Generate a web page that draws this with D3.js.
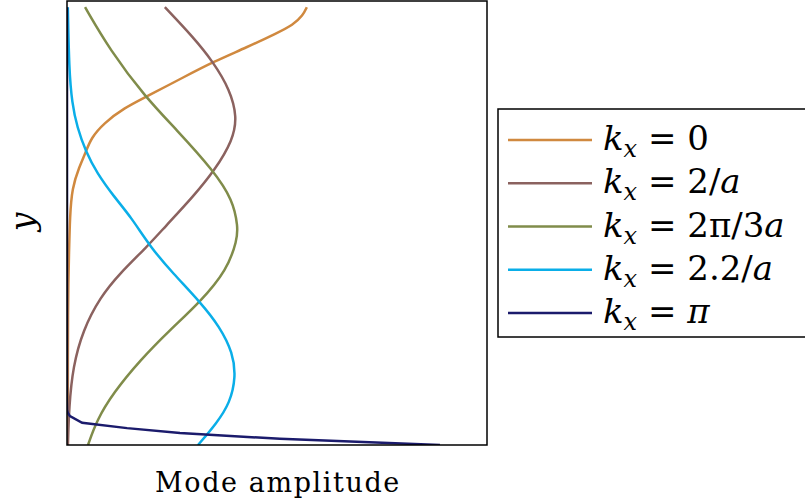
<!DOCTYPE html>
<html>
<head>
<meta charset="utf-8">
<script src="https://cdn.jsdelivr.net/npm/d3@7"></script>
<style>
  body { margin: 0; background: #fff; }
  svg { display: block; }
  text { white-space: pre; }
</style>
</head>
<body>
<svg width="805" height="503"></svg>
<script>
const plotMargin = {left: 67, right: 318, top: 1, bottom: 58};
const lineWidth = 2.5;

// amplitude (x) vs height (y)
const orangeX = [0.571, 0.562, 0.538, 0.500, 0.429, 0.348, 0.279, 0.188, 0.136, 0.088, 0.057, 0.045, 0.029, 0.012, 0.007, 0.005, 0.002, 0.002];
const orangeY = [0.986, 0.968, 0.946, 0.928, 0.896, 0.863, 0.829, 0.784, 0.759, 0.725, 0.691, 0.660, 0.626, 0.579, 0.514, 0.439, 0.327, 0.0];
const brownX = [0.233, 0.300, 0.348, 0.388, 0.405, 0.395, 0.352, 0.300, 0.233, 0.190, 0.126, 0.079, 0.038, 0.014, 0.005, 0.002];
const brownY = [0.986, 0.919, 0.863, 0.800, 0.739, 0.687, 0.619, 0.559, 0.491, 0.446, 0.387, 0.333, 0.259, 0.176, 0.086, 0.0];
const oliveX = [0.043, 0.102, 0.186, 0.262, 0.348, 0.395, 0.407, 0.405, 0.381, 0.317, 0.245, 0.174, 0.110, 0.071, 0.050];
const oliveY = [0.986, 0.890, 0.784, 0.709, 0.619, 0.552, 0.491, 0.462, 0.394, 0.322, 0.259, 0.191, 0.117, 0.056, 0.0];
const cyanX = [0.002, 0.005, 0.012, 0.024, 0.045, 0.071, 0.112, 0.152, 0.200, 0.252, 0.317, 0.364, 0.395, 0.402, 0.388, 0.357, 0.312];
const cyanY = [0.986, 0.845, 0.770, 0.716, 0.660, 0.613, 0.559, 0.514, 0.444, 0.387, 0.322, 0.266, 0.207, 0.153, 0.095, 0.050, 0.0];
const navyX = [0.0, 0.0, 0.002, 0.007, 0.036, 0.143, 0.269, 0.507, 0.888];
const navyY = [0.986, 0.079, 0.072, 0.065, 0.050, 0.038, 0.027, 0.014, 0.0];

const seriesNames = ["k0", "k2a", "k2pi3a", "k22a", "kpi"];
const seriesColors = ["#D0893F", "#8B625F", "#808C4A", "#0AAEE8", "#1B1B6C"];
const seriesLabels = ["0", "2/a", "2π/3a", "2.2/a", "π"];

function renderChart(){
  var svg = d3.select("svg"),
      width = +svg.attr("width") - plotMargin.left - plotMargin.right,
      height = +svg.attr("height") - plotMargin.top - plotMargin.bottom;

  var xScale = d3.scaleLinear().domain([0, 1]).range([0, width]);
  var yScale = d3.scaleLinear().domain([0, 1]).range([height, 0]);

  var g = svg.append("g")
            .attr("transform", "translate(" + plotMargin.left + "," + plotMargin.top + ")");

  var series = [
    {xs: orangeX, ys: orangeY, curve: d3.curveBasis},
    {xs: brownX, ys: brownY, curve: d3.curveBasis},
    {xs: oliveX, ys: oliveY, curve: d3.curveBasis},
    {xs: cyanX, ys: cyanY, curve: d3.curveBasis},
    {xs: navyX, ys: navyY, curve: d3.curveLinear}
  ];

  g.append("defs").append("clipPath").attr("id", "clip")
   .append("rect").attr("width", width).attr("height", height);

  series.forEach(function(s, i){
    var pts = s.xs.map(function(x, j){ return [x, s.ys[j]]; });
    var line = d3.line()
                 .x(function(d){ return xScale(d[0]); })
                 .y(function(d){ return yScale(d[1]); })
                 .curve(s.curve);
    g.append("path")
     .attr("class", seriesNames[i])
     .attr("clip-path", "url(#clip)")
     .attr("d", line(pts))
     .attr("fill", "none")
     .attr("stroke", seriesColors[i])
     .attr("stroke-width", lineWidth);
  });

  g.append("rect")
   .attr("width", width).attr("height", height)
   .attr("fill", "none").attr("stroke", "#000").attr("stroke-width", 1.5);

  // axis labels
  svg.append("text")
     .attr("x", plotMargin.left + width / 2 + 1).attr("y", 492)
     .attr("text-anchor", "middle")
     .attr("font-family", "DejaVu Serif").attr("font-size", 27)
     .attr("letter-spacing", 1.6)
     .text("Mode amplitude");
  svg.append("text")
     .attr("transform", "translate(34,222) rotate(-90)")
     .attr("text-anchor", "middle")
     .attr("font-family", "DejaVu Serif").attr("font-style", "italic").attr("font-size", 33)
     .text("y");

  // legend
  var leg = svg.append("g").attr("transform", "translate(498,109)");
  leg.append("rect").attr("width", 320).attr("height", 228)
     .attr("fill", "#fff").attr("stroke", "#000").attr("stroke-width", 1.5);
  var rowY = d3.scaleLinear().domain([0, 4]).range([31, 204]);
  seriesLabels.forEach(function(lab, i){
    var ry = rowY(i);
    leg.append("line").attr("x1", 10).attr("x2", 94).attr("y1", ry).attr("y2", ry)
       .attr("stroke", seriesColors[i]).attr("stroke-width", lineWidth);
    var t = leg.append("text").attr("x", 105).attr("y", ry + 10)
               .attr("font-family", "DejaVu Serif").attr("font-size", 34);
    t.append("tspan").attr("font-style", "italic").text("k");
    t.append("tspan").attr("font-style", "italic").attr("font-size", 24).attr("dy", 7).text("x");
    t.append("tspan").attr("dy", -7).text("\u00A0=\u00A0");
    var parts = lab.split(/(a)/);
    parts.forEach(function(p){
      if (!p) return;
      var ts = t.append("tspan").text(p);
      if (p === "a" || p === "π") ts.attr("font-style", "italic");
    });
  });
}

renderChart();
</script>
</body>
</html>
